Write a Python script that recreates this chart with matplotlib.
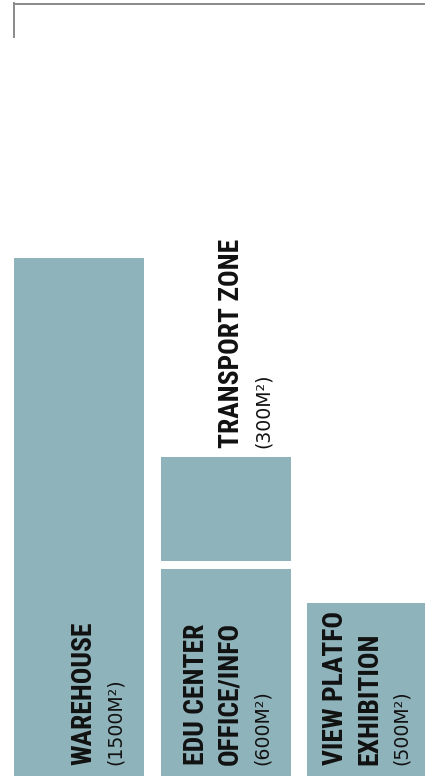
import matplotlib
matplotlib.use("Agg")
import matplotlib.pyplot as plt

# Floor areas (m2) of each zone, and which column each block sits in
names = ["WAREHOUSE", "EDU CENTER\nOFFICE/INFO", "TRANSPORT ZONE", "VIEW PLATFO\nEXHIBITION"]
areas = [1500, 600, 300, 500]
columns = [0, 1, 1, 2]

# layout (pixels) for the labels: first-line offset from block corner
label_dx = [56, 22, 57, 15]
label_dy = [11, 11, 9, 11]
label_above = [False, False, True, False]   # transport label sits over its block

bar_color = "#8eb3bb"
gap = 23          # white gap between stacked blocks, in m2 units
bar_w = 0.889

fig = plt.figure(figsize=(4.25, 7.76), dpi=100)
ax = fig.add_axes([14.3 / 425, 0, 424.3 / 425, 772.5 / 776])

name_font = ["Roboto Condensed", "Archivo Narrow", "DejaVu Sans"]
area_font = ["DejaVu Sans"]

stack_top = {}
for name, area, col, dx, dy, above in zip(names, areas, columns, label_dx, label_dy, label_above):
    bottom = stack_top.get(col, 0)
    if bottom > 0:
        bottom += gap
    ax.bar(col, area, width=bar_w, bottom=bottom, align="edge", color=bar_color, linewidth=0)
    stack_top[col] = bottom + area

    anchor_y = bottom + area if above else bottom
    x_off = dx
    for line in name.split("\n"):
        ax.annotate(line, xy=(col, anchor_y), xycoords="data",
                    xytext=(x_off, dy), textcoords="offset pixels",
                    rotation=90, ha="left", va="bottom",
                    fontsize=19.8, fontweight="bold", family=name_font, color="#111111")
        x_off += 34
    ax.annotate(f"({area}M\u00b2)", xy=(col, anchor_y), xycoords="data",
                xytext=(x_off + 2, dy), textcoords="offset pixels",
                rotation=90, ha="left", va="bottom",
                fontsize=13.6, family=area_font, color="#111111")

ax.set_xlim(0, 2.9)
ax.set_ylim(0, 2237)
ax.set_xticks([])
ax.set_yticks([])
for side in ["right", "bottom"]:
    ax.spines[side].set_visible(False)
for side in ["top", "left"]:
    ax.spines[side].set_color("#8a8a8a")
    ax.spines[side].set_linewidth(1.4)
ax.spines["left"].set_bounds(2237 - 96, 2237)

fig.savefig("out.png", dpi=100)
